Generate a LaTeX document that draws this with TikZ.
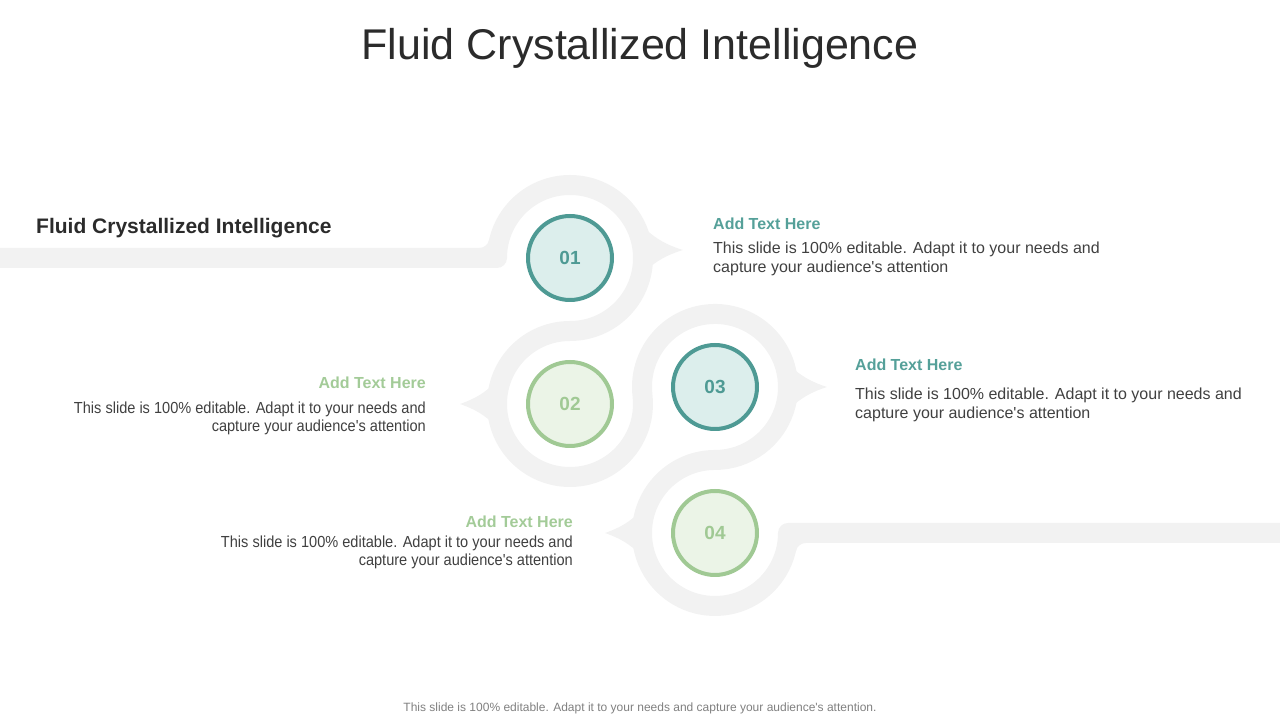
\documentclass[tikz,border=0pt]{standalone}
\usepackage{fontspec}
\setmainfont{Liberation Sans}[Ligatures=TeXOff]
\definecolor{bandgray}{HTML}{F2F2F2}
\definecolor{tealS}{HTML}{4E9A94}
\definecolor{tealF}{HTML}{DCEEEC}
\definecolor{greenS}{HTML}{A0C994}
\definecolor{greenF}{HTML}{EBF4E7}
\definecolor{tealT}{HTML}{55A099}
\definecolor{greenT}{HTML}{A3CB98}
\definecolor{bodyT}{HTML}{404040}
\definecolor{titleT}{HTML}{2B2B2B}
\definecolor{footT}{HTML}{808080}
\newcommand{\narrow}[1]{\scalebox{0.91}[1]{#1}}
\tikzset{
  band/.style={draw=bandgray, line width=20pt, line join=round},
  bandfill/.style={fill=bandgray},
  numc/.style={circle, minimum size=84pt, inner sep=0pt, line width=4pt,
    font=\fontsize{19}{22}\selectfont\bfseries},
  tealc/.style={numc, draw=tealS, fill=tealF, text=tealS},
  greenc/.style={numc, draw=greenS, fill=greenF, text=greenS},
  head/.style={inner sep=0pt, font=\fontsize{16}{19}\selectfont\bfseries},
  body/.style={inner sep=0pt, text=bodyT, font=\fontsize{16}{19}\selectfont},
}
\begin{document}
\begin{tikzpicture}[x=1pt,y=1pt]
\useasboundingbox (0,0) rectangle (1280,720);
% serpentine band
\draw[band] (0,462) -- (497,462)
  arc[start angle=180, end angle=-90, radius=73pt]
  arc[start angle=90, end angle=366.7, radius=73pt]
  arc[start angle=186.7, end angle=-90, radius=73pt]
  arc[start angle=90, end angle=360, radius=73pt]
  -- (1280,187);
% fillets
\fill[bandfill] (479.2,472) arc[start angle=270, end angle=347.4, radius=10pt] -- (492,472) -- cycle;
\fill[bandfill] (805.8,177) arc[start angle=90, end angle=167.4, radius=10pt] -- (793,177) -- cycle;
% pointers
\begin{scope}[shift={(570,470)}]
  \fill[bandfill] (74,22) to[bend right=12] (113,0) to[bend right=12] (74,-22) -- (70,0) -- cycle;
\end{scope}
\begin{scope}[shift={(570,316)}, rotate=180]
  \fill[bandfill] (74,22) to[bend right=12] (110,0) to[bend right=12] (74,-22) -- (70,0) -- cycle;
\end{scope}
\begin{scope}[shift={(715,333)}]
  \fill[bandfill] (74,22) to[bend right=12] (112,0) to[bend right=12] (74,-22) -- (70,0) -- cycle;
\end{scope}
\begin{scope}[shift={(715,187)}, rotate=180]
  \fill[bandfill] (74,22) to[bend right=12] (110,0) to[bend right=12] (74,-22) -- (70,0) -- cycle;
\end{scope}
% circles
\node[tealc] (c1) at (570,462) {01};
\node[greenc] (c2) at (570,316) {02};
\node[tealc] (c3) at (715,333) {03};
\node[greenc] (c4) at (715,187) {04};
% title
\node[anchor=base, inner sep=0pt, text=titleT, font=\fontsize{43}{50}\selectfont] (title) at (640,660) {Fluid Crystallized Intelligence};
\node[anchor=base west, inner sep=0pt, text=titleT, font=\fontsize{21}{25}\selectfont\bfseries] (sub) at (36,486) {Fluid Crystallized Intelligence};
% block 1
\node[head, text=tealT, anchor=base west] (h1) at (713,490) {Add Text Here};
\node[body, anchor=base west] (b1a) at (713,466) {This slide is 100\% editable. Adapt it to your needs and};
\node[body, anchor=base west] (b1b) at (713,447) {capture your audience's attention};
% block 2
\node[head, text=greenT, anchor=base east] (h2) at (426,331) {Add Text Here};
\node[body, anchor=base east] (b2a) at (426,306) {\narrow{This slide is 100\% editable. Adapt it to your needs and}};
\node[body, anchor=base east] (b2b) at (426,288) {\narrow{capture your audience's attention}};
% block 3
\node[head, text=tealT, anchor=base west] (h3) at (855,349) {Add Text Here};
\node[body, anchor=base west] (b3a) at (855,320) {This slide is 100\% editable. Adapt it to your needs and};
\node[body, anchor=base west] (b3b) at (855,301) {capture your audience's attention};
% block 4
\node[head, text=greenT, anchor=base east] (h4) at (573,192) {Add Text Here};
\node[body, anchor=base east] (b4a) at (573,172) {\narrow{This slide is 100\% editable. Adapt it to your needs and}};
\node[body, anchor=base east] (b4b) at (573,154) {\narrow{capture your audience's attention}};
% footer
\node[anchor=base, inner sep=0pt, text=footT, font=\fontsize{12}{14}\selectfont] (foot) at (640,8) {This slide is 100\% editable. Adapt it to your needs and capture your audience's attention.};
\end{tikzpicture}
\end{document}
